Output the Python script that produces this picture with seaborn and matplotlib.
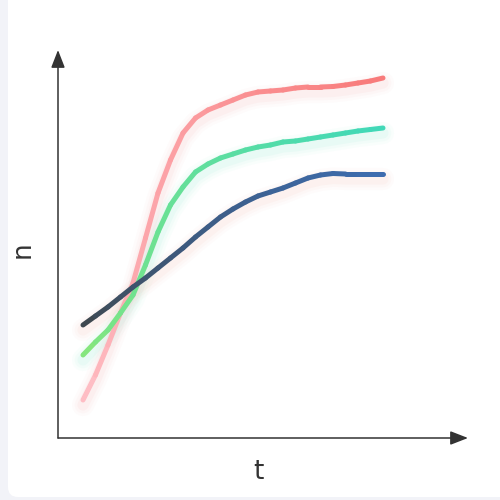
import numpy as np
import pandas as pd
import matplotlib
matplotlib.use("Agg")
import matplotlib.pyplot as plt
import matplotlib.transforms as mtransforms
from matplotlib.collections import LineCollection
from matplotlib.colors import to_rgb
from matplotlib.patches import FancyBboxPatch
import seaborn as sns

# Data
t = [2.5, 3.75, 5, 6.25, 7.5, 8.75, 10, 11.25, 12.5, 13.75, 15, 16.25, 17.5,
     18.75, 20, 21.25, 22.5, 23.75, 25, 26.25, 27.5, 28.75, 30, 31.25, 32.5]
n_red = [3.8, 6.3, 9.3, 12.5, 15.5, 20.0, 24.5, 27.8, 30.5, 32.0, 32.8, 33.3, 33.8,
         34.3, 34.6, 34.7, 34.8, 35.0, 35.1, 35.1, 35.15, 35.3, 35.5, 35.7, 36.0]
n_green = [8.3, 9.6, 10.8, 12.5, 14.3, 17.3, 20.6, 23.3, 25.1, 26.6, 27.4, 28.0, 28.4,
           28.8, 29.1, 29.3, 29.6, 29.7, 29.9, 30.1, 30.3, 30.5, 30.7, 30.85, 31.0]
n_blue = [11.3, 12.2, 13.1, 14.1, 15.1, 16.0, 17.0, 18.0, 19.0, 20.1, 21.1, 22.1, 22.9,
          23.6, 24.2, 24.6, 25.0, 25.5, 26.0, 26.3, 26.45, 26.4, 26.4, 26.4, 26.4]

series = [
    ("red", n_red, "#ffc4cc", "#f87a7a", "#f9a0a0"),
    ("green", n_green, "#8ce878", "#40d8b8", "#7ee8c8"),
    ("blue", n_blue, "#3e4446", "#3d6db0", "#f8b0a0"),
]

sns.set_theme(style="white")
plt.rcParams["font.family"] = ["DejaVu Sans"]

fig = plt.figure(figsize=(5, 5), dpi=100)
fig.patch.set_facecolor("#f2f3f8")

# white card
card = FancyBboxPatch((0.036, 0.026), 1.0, 1.1,
                      boxstyle="round,pad=0.02,rounding_size=0.02",
                      transform=fig.transFigure, facecolor="white",
                      edgecolor="none", zorder=-10)
fig.patches.append(card)

ax = fig.add_axes([0.116, 0.124, 0.82, 0.776])
ax.set_facecolor("none")
ax.set_xlim(0, 41)
ax.set_ylim(0, 38.8)
sns.despine(ax=ax, left=True, bottom=True)
ax.set_xticks([])
ax.set_yticks([])

df = pd.DataFrame({"t": t, "red": n_red, "green": n_green, "blue": n_blue})

# soft glow under each line
for name, vals, c0, c1, glow in series:
    for lw, a in [(16, 0.04), (12, 0.05), (8, 0.08)]:
        off = mtransforms.offset_copy(ax.transData, fig=fig, x=0, y=-5, units="dots")
        sns.lineplot(data=df, x="t", y=name, ax=ax, color=glow, lw=lw,
                     alpha=a, transform=off, solid_capstyle="round", zorder=1)
ax.set_xlabel("")
ax.set_ylabel("")

# gradient coloured lines
for name, vals, c0, c1, glow in series:
    pts = np.column_stack([t, vals])
    segs = np.stack([pts[:-1], pts[1:]], axis=1)
    f = (np.arange(len(segs)) + 0.5) / len(segs)
    f = f ** 0.6
    a0, a1 = np.array(to_rgb(c0)), np.array(to_rgb(c1))
    cols = [a0 + (a1 - a0) * k for k in f]
    lc = LineCollection(segs, colors=cols, linewidths=3.6, capstyle="round",
                        joinstyle="round", zorder=3)
    ax.add_collection(lc)

# axes with arrows
arrow = dict(arrowstyle="-|>,head_length=0.9,head_width=0.35",
             color="#333333", lw=1.1, shrinkA=0, shrinkB=0)
ax.annotate("", xy=(1.0, 0), xytext=(0, 0), xycoords="axes fraction", arrowprops=arrow)
ax.annotate("", xy=(0, 1.0), xytext=(0, 0), xycoords="axes fraction", arrowprops=arrow)

fig.text(0.046, 0.5, "n", rotation=90, ha="center", va="center",
         fontsize=19, color="#333333")
fig.text(0.516, 0.056, "t", ha="center", va="center",
         fontsize=19, color="#333333")

fig.savefig("out.png", dpi=100, facecolor=fig.get_facecolor())
